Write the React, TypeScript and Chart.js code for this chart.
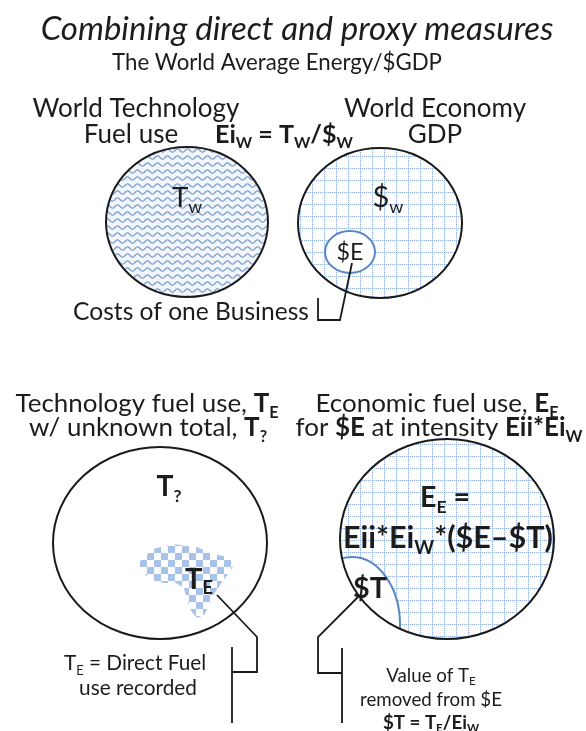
import React, { useEffect, useRef } from "react";
import { Chart, registerables } from "chart.js";

Chart.register(...registerables);

const FONT = 'Lato, "Open Sans", sans-serif';
const W = 586;
const H = 731;

// ---- text content ----
const titleText = "Combining direct and proxy measures";
const subtitleText = "The World Average Energy/$GDP";
const topLeftLabel = ["World Technology", "Fuel use"];
const topRightLabel = ["World Economy", "GDP"];
const intensityFormula = "~Ei_{W} = T_{W}/$_{W}~";
const businessLabel = "Costs of one Business";
const bottomLeftLabel = ["Technology fuel use, ~T_{E}~", "w/ unknown total, ~T_{?}~"];
const bottomRightLabel = ["Economic fuel use, ~E_{E}~", "for ~$E~ at intensity ~Eii*Ei_{W}~"];
const directLabel = ["T_{E} = Direct Fuel", "use recorded"];
const valueLabel = ["Value of T_{E}", "removed from $E", "~$T = T_{E}/Ei_{W}~"];
const innerLabels = ["T_{w}", "$_{w}", "$E", "~T_{?}~", "~T_{E}~", "~E_{E} =~", "~Eii*Ei_{W}*($E\u2013$T)~", "~$T~"];

// ---- sets (ellipses) in diagram units ----
const setNames = ["World technology fuel use", "World economy GDP", "Technology fuel use", "Economic fuel use"];
const setCenterX = [187, 380, 160, 447];
const setCenterY = [222, 223, 543, 539];
const setRadiusX = [81, 82, 107, 107];
const setRadiusY = [75, 75, 96, 100];

// ---- sub-sets ----
const subsetNames = ["$E", "$T"];
const subsetCenterX = [350, 352];
const subsetCenterY = [252, 625];
const subsetRadiusX = [25, 48];
const subsetRadiusY = [21, 68];

// ---- recorded direct fuel use region (T_E) outline ----
const recordedX = [138, 153, 173, 197, 210, 227, 236, 228, 220, 214, 209, 204, 197, 191, 187, 184, 176, 164, 152, 143];
const recordedY = [563, 549, 544, 547, 553, 557, 563, 574, 585, 594, 606, 615, 618, 611, 600, 588, 583, 583, 580, 573];

// ---- leader lines ----
const leaderBusinessX = [318, 318, 340, 352];
const leaderBusinessY = [298, 320, 320, 263];
const leaderDirectX = [217, 257, 257, 232];
const leaderDirectY = [595, 637, 672, 672];
const bracketDirectX = [232, 232];
const bracketDirectY = [647, 723];
const leaderValueX = [360, 318, 318, 342];
const leaderValueY = [595, 637, 673, 673];
const bracketValueX = [342, 342];
const bracketValueY = [648, 723];

type Run = { t: string; bold: boolean; sub: boolean };

function parseRich(s: string): Run[] {
  const runs: Run[] = [];
  let bold = false;
  let sub = false;
  let buf = "";
  const flush = () => {
    if (buf) {
      runs.push({ t: buf, bold, sub });
      buf = "";
    }
  };
  for (let i = 0; i < s.length; i++) {
    const c = s[i];
    if (c === "~") {
      flush();
      bold = !bold;
    } else if (c === "_" && s[i + 1] === "{") {
      flush();
      sub = true;
      i++;
    } else if (c === "}" && sub) {
      flush();
      sub = false;
    } else buf += c;
  }
  flush();
  return runs;
}

function fontFor(r: Run, size: number, italic: boolean) {
  return `${italic ? "italic " : ""}${r.bold ? "700" : "400"} ${r.sub ? size * 0.62 : size}px ${FONT}`;
}

function measureRich(ctx: CanvasRenderingContext2D, runs: Run[], size: number, italic: boolean) {
  return runs.map((r) => {
    ctx.font = fontFor(r, size, italic);
    return ctx.measureText(r.t).width;
  });
}

// font size at which the text spans the given width
function fitSize(ctx: CanvasRenderingContext2D, s: string, width: number, italic = false) {
  const w = measureRich(ctx, parseRich(s), 100, italic).reduce((a, b) => a + b, 0);
  return (100 * width) / w;
}

function drawRich(ctx: CanvasRenderingContext2D, s: string, cx: number, cy: number, size: number, italic = false) {
  const runs = parseRich(s);
  const widths = measureRich(ctx, runs, size, italic);
  const total = widths.reduce((a, b) => a + b, 0);
  let x = cx - total / 2;
  const base = cy + size * 0.36;
  ctx.textBaseline = "alphabetic";
  ctx.textAlign = "left";
  ctx.fillStyle = "#1c1c1c";
  runs.forEach((r, i) => {
    ctx.font = fontFor(r, size, italic);
    ctx.fillText(r.t, x, r.sub ? base + size * 0.2 : base);
    x += widths[i];
  });
}

function makeWave(ctx: CanvasRenderingContext2D) {
  const c = document.createElement("canvas");
  c.width = 10;
  c.height = 7;
  const g = c.getContext("2d")!;
  g.fillStyle = "#f2f6fb";
  g.fillRect(0, 0, 10, 7);
  g.strokeStyle = "#7c9ecb";
  g.lineWidth = 1.3;
  g.beginPath();
  for (let x = -1; x <= 11; x += 0.5) {
    const y = 3.5 + 1.6 * Math.sin((2 * Math.PI * x) / 10);
    if (x === -1) g.moveTo(x, y);
    else g.lineTo(x, y);
  }
  g.stroke();
  return ctx.createPattern(c, "repeat")!;
}

function makeGrid(ctx: CanvasRenderingContext2D) {
  const c = document.createElement("canvas");
  c.width = 12;
  c.height = 12;
  const g = c.getContext("2d")!;
  g.fillStyle = "#ffffff";
  g.fillRect(0, 0, 12, 12);
  g.fillStyle = "#93b1d8";
  for (let i = 0; i < 12; i += 2) {
    g.fillRect(i, 0, 1.2, 1.1);
    g.fillRect(0, i, 1.1, 1.2);
  }
  return ctx.createPattern(c, "repeat")!;
}

function makeChecker(ctx: CanvasRenderingContext2D) {
  const c = document.createElement("canvas");
  c.width = 14;
  c.height = 14;
  const g = c.getContext("2d")!;
  g.fillStyle = "#ffffff";
  g.fillRect(0, 0, 14, 14);
  g.fillStyle = "#a9c2e7";
  g.fillRect(0, 0, 7, 7);
  g.fillRect(7, 7, 7, 7);
  return ctx.createPattern(c, "repeat")!;
}

const diagramPlugin = {
  id: "diagram",
  beforeDatasetsDraw(chart: any) {
    const ctx: CanvasRenderingContext2D = chart.ctx;
    const xs = chart.scales.x;
    const ys = chart.scales.y;
    const px = (v: number) => xs.getPixelForValue(v);
    const py = (v: number) => ys.getPixelForValue(v);
    const ellipsePath = (cx: number, cy: number, rx: number, ry: number) => {
      ctx.beginPath();
      ctx.ellipse(px(cx), py(cy), Math.abs(px(cx + rx) - px(cx)), Math.abs(py(cy + ry) - py(cy)), 0, 0, Math.PI * 2);
    };
    const fills = [makeWave(ctx), makeGrid(ctx), "#ffffff", makeGrid(ctx)];
    ctx.save();
    setNames.forEach((_, i) => {
      ellipsePath(setCenterX[i], setCenterY[i], setRadiusX[i], setRadiusY[i]);
      ctx.fillStyle = fills[i] as any;
      ctx.fill();
    });
    ctx.beginPath();
    recordedX.forEach((x, i) => {
      if (i === 0) ctx.moveTo(px(x), py(recordedY[i]));
      else ctx.lineTo(px(x), py(recordedY[i]));
    });
    ctx.closePath();
    ctx.fillStyle = makeChecker(ctx);
    ctx.fill();
    const parents = [1, 3];
    subsetNames.forEach((_, i) => {
      const p = parents[i];
      ctx.save();
      ellipsePath(setCenterX[p], setCenterY[p], setRadiusX[p], setRadiusY[p]);
      ctx.clip();
      ellipsePath(subsetCenterX[i], subsetCenterY[i], subsetRadiusX[i], subsetRadiusY[i]);
      ctx.fillStyle = "#ffffff";
      ctx.fill();
      ctx.strokeStyle = "#5a88c4";
      ctx.lineWidth = 2;
      ctx.stroke();
      ctx.restore();
    });
    setNames.forEach((_, i) => {
      ellipsePath(setCenterX[i], setCenterY[i], setRadiusX[i], setRadiusY[i]);
      ctx.strokeStyle = "#1a1a1a";
      ctx.lineWidth = 2;
      ctx.stroke();
    });
    ctx.restore();
  },
  afterDatasetsDraw(chart: any) {
    const ctx: CanvasRenderingContext2D = chart.ctx;
    const xs = chart.scales.x;
    const ys = chart.scales.y;
    const T = (s: string, x: number, y: number, size: number, italic = false) =>
      drawRich(ctx, s, xs.getPixelForValue(x), ys.getPixelForValue(y), size, italic);
    const F = (s: string, w: number, italic = false) => fitSize(ctx, s, w, italic);
    const sTop = F(topLeftLabel[0], 207);
    const sHead = F(bottomLeftLabel[0], 263);
    const sNote = F(directLabel[1], 118);
    const sValue = F(valueLabel[1], 142);
    ctx.save();
    T(titleText, 297, 28, F(titleText, 513, true), true);
    T(subtitleText, 277, 62, F(subtitleText, 330));
    T(topLeftLabel[0], 136, 108, sTop);
    T(topLeftLabel[1], 131, 134, sTop);
    T(intensityFormula, 284, 134, F(intensityFormula, 138));
    T(topRightLabel[0], 435, 108, sTop);
    T(topRightLabel[1], 435, 134, sTop);
    T(innerLabels[0], 187, 197, F(innerLabels[0], 30));
    T(innerLabels[1], 388, 197, F(innerLabels[1], 31));
    T(innerLabels[2], 350, 252, F(innerLabels[2], 27));
    T(businessLabel, 191, 311, F(businessLabel, 236));
    T(bottomLeftLabel[0], 147, 403, sHead);
    T(bottomLeftLabel[1], 148, 427, sHead);
    T(bottomRightLabel[0], 437, 403, sHead);
    T(bottomRightLabel[1], 439, 427, sHead);
    T(innerLabels[3], 169, 486, F(innerLabels[3], 25));
    T(innerLabels[4], 199, 578, F(innerLabels[4], 28));
    T(innerLabels[5], 445, 497, F(innerLabels[5], 50));
    T(innerLabels[6], 448, 537, F(innerLabels[6], 210));
    T(innerLabels[7], 370, 588, F(innerLabels[7], 34));
    T(directLabel[0], 135, 663, sNote);
    T(directLabel[1], 138, 688, sNote);
    T(valueLabel[0], 431, 675, sValue);
    T(valueLabel[1], 431, 699, sValue);
    T(valueLabel[2], 431, 722, sValue);
    ctx.restore();
  },
};

function line(xsArr: number[], ysArr: number[]) {
  return {
    data: xsArr.map((x, i) => ({ x, y: ysArr[i] })),
    showLine: true,
    pointRadius: 0,
    borderColor: "#1a1a1a",
    borderWidth: 1.8,
    fill: false,
    tension: 0,
    borderJoinStyle: "miter" as const,
  };
}

export default function App() {
  const ref = useRef<HTMLCanvasElement>(null);
  useEffect(() => {
    if (!ref.current) return;
    const chart = new Chart(ref.current, {
      type: "scatter",
      data: {
        datasets: [
          line(leaderBusinessX, leaderBusinessY),
          line(leaderDirectX, leaderDirectY),
          line(bracketDirectX, bracketDirectY),
          line(leaderValueX, leaderValueY),
          line(bracketValueX, bracketValueY),
        ] as any,
      },
      options: {
        responsive: false,
        animation: false,
        devicePixelRatio: 1,
        events: [],
        layout: { padding: 0 },
        plugins: { legend: { display: false }, tooltip: { enabled: false } },
        scales: {
          x: { type: "linear", min: 0, max: W, display: false },
          y: { type: "linear", min: 0, max: H, reverse: true, display: false },
        },
      },
      plugins: [diagramPlugin],
    });
    return () => chart.destroy();
  }, []);
  return (
    <div style={{ position: "absolute", left: 0, top: 0, width: W, height: H, background: "#fff" }}>
      <canvas ref={ref} width={W} height={H} style={{ display: "block" }} />
    </div>
  );
}
